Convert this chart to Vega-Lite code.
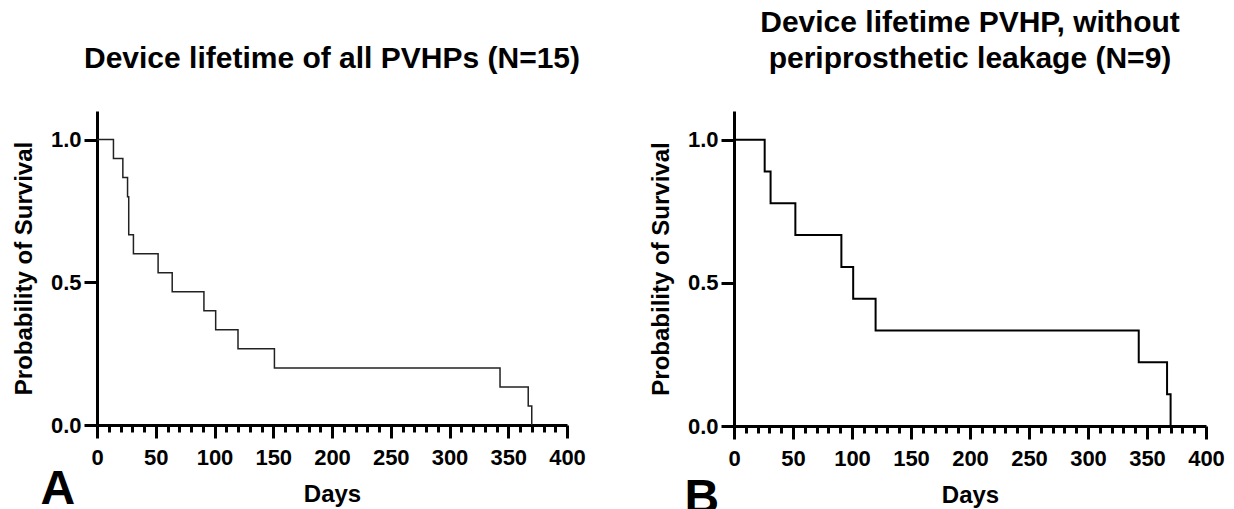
{
  "$schema": "https://vega.github.io/schema/vega-lite/v6.json",
  "background": "white",
  "padding": {"left": 12, "top": 8, "right": 5, "bottom": 0},
  "spacing": 63,
  "config": {
    "font": "Liberation Sans",
    "view": {"stroke": null},
    "title": {"fontSize": 30, "fontWeight": "bold", "color": "black", "anchor": "middle", "frame": "group", "offset": 37, "lineHeight": 36},
    "axis": {
      "grid": false,
      "domainColor": "black", "domainWidth": 3,
      "tickColor": "black", "tickWidth": 3, "tickSize": 13,
      "labelFont": "Liberation Sans", "labelFontWeight": "bold", "labelFontSize": 22, "labelColor": "black", "labelFlush": false,
      "titleFont": "Liberation Sans", "titleFontWeight": "bold", "titleFontSize": 24, "titleColor": "black"
    }
  },
  "hconcat": [
    {
      "width": 470,
      "height": 314,
      "title": "Device lifetime of all PVHPs (N=15)",
      "data": {"values": [
        {"days": 0, "survival": 1.0},
        {"days": 14, "survival": 0.9333},
        {"days": 22, "survival": 0.8667},
        {"days": 26, "survival": 0.8},
        {"days": 27, "survival": 0.6667},
        {"days": 31, "survival": 0.6},
        {"days": 52, "survival": 0.5333},
        {"days": 64, "survival": 0.4667},
        {"days": 91, "survival": 0.4},
        {"days": 101, "survival": 0.3333},
        {"days": 120, "survival": 0.2667},
        {"days": 151, "survival": 0.2},
        {"days": 343, "survival": 0.1333},
        {"days": 367, "survival": 0.0667},
        {"days": 370, "survival": 0.0}
      ]},
      "layer": [
        {
          "mark": {"type": "line", "interpolate": "step-after", "color": "#222", "strokeWidth": 1.5},
          "encoding": {
            "x": {"field": "days", "type": "quantitative", "scale": {"domain": [0, 400], "nice": false},
              "axis": {"values": [0, 50, 100, 150, 200, 250, 300, 350, 400], "title": "Days", "labelPadding": 9, "titlePadding": 14}},
            "y": {"field": "survival", "type": "quantitative", "scale": {"domain": [0, 1.1], "nice": false},
              "axis": {"values": [0, 0.5, 1], "format": ".1f", "title": "Probability of Survival", "labelPadding": 3, "titlePadding": 14}}
          }
        },
        {
          "mark": {"type": "line", "interpolate": "step-after", "opacity": 0},
          "encoding": {
            "x": {"field": "days", "type": "quantitative",
              "axis": {"orient": "bottom", "values": [10,20,30,40,60,70,80,90,110,120,130,140,160,170,180,190,210,220,230,240,260,270,280,290,310,320,330,340,360,370,380,390],
                "labels": false, "domain": false, "tickSize": 7, "title": "A", "titleFontSize": 48, "titleAlign": "left", "titleBaseline": "alphabetic", "titleX": -57, "titleY": 78}},
            "y": {"field": "survival", "type": "quantitative"}
          }
        }
      ],
      "resolve": {"axis": {"x": "independent"}}
    },
    {
      "width": 472,
      "height": 315,
      "title": {"text": ["Device lifetime PVHP, without", "periprosthetic leakage (N=9)"]},
      "data": {"values": [
        {"days": 0, "survival": 1.0},
        {"days": 26, "survival": 0.8889},
        {"days": 31, "survival": 0.7778},
        {"days": 52, "survival": 0.6667},
        {"days": 91, "survival": 0.5556},
        {"days": 101, "survival": 0.4444},
        {"days": 120, "survival": 0.3333},
        {"days": 343, "survival": 0.2222},
        {"days": 367, "survival": 0.1111},
        {"days": 370, "survival": 0.0}
      ]},
      "layer": [
        {
          "mark": {"type": "line", "interpolate": "step-after", "color": "black", "strokeWidth": 2},
          "encoding": {
            "x": {"field": "days", "type": "quantitative", "scale": {"domain": [0, 400], "nice": false},
              "axis": {"values": [0, 50, 100, 150, 200, 250, 300, 350, 400], "title": "Days", "labelPadding": 9, "titlePadding": 14}},
            "y": {"field": "survival", "type": "quantitative", "scale": {"domain": [0, 1.1], "nice": false},
              "axis": {"values": [0, 0.5, 1], "format": ".1f", "title": "Probability of Survival", "labelPadding": 3, "titlePadding": 14}}
          }
        },
        {
          "mark": {"type": "line", "interpolate": "step-after", "opacity": 0},
          "encoding": {
            "x": {"field": "days", "type": "quantitative",
              "axis": {"orient": "bottom", "values": [10,20,30,40,60,70,80,90,110,120,130,140,160,170,180,190,210,220,230,240,260,270,280,290,310,320,330,340,360,370,380,390],
                "labels": false, "domain": false, "tickSize": 7, "title": "B", "titleFontSize": 48, "titleAlign": "left", "titleBaseline": "alphabetic", "titleX": -50, "titleY": 86}},
            "y": {"field": "survival", "type": "quantitative"}
          }
        }
      ],
      "resolve": {"axis": {"x": "independent"}}
    }
  ]
}
